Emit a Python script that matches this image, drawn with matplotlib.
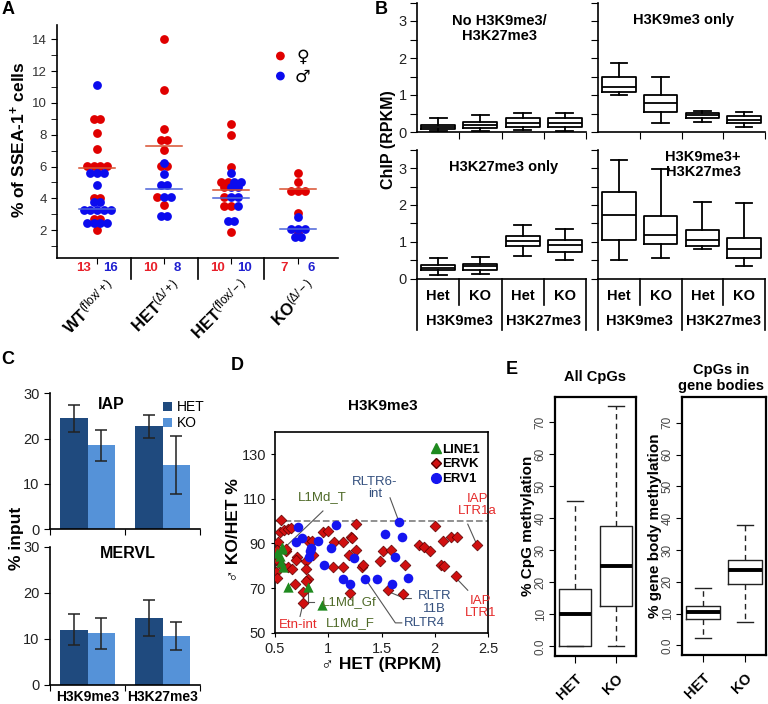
import numpy as np
import matplotlib
matplotlib.use('Agg')
import matplotlib.pyplot as plt
import matplotlib.transforms as mtransforms
from matplotlib.lines import Line2D
from matplotlib.patches import Patch

plt.rcParams['font.family'] = ['Liberation Sans', 'DejaVu Sans']
plt.rcParams['mathtext.fontset'] = 'custom'
plt.rcParams['mathtext.rm'] = 'Liberation Sans'
plt.rcParams['mathtext.it'] = 'Liberation Sans:italic'
plt.rcParams['mathtext.bf'] = 'Liberation Sans:bold'
plt.rcParams['axes.linewidth'] = 1.2
plt.rcParams['xtick.direction'] = 'out'
plt.rcParams['ytick.direction'] = 'out'

# ---------------- data ----------------
# A: % of SSEA-1+ cells, females (red) and males (blue)
a_groups = [r'$\mathbf{WT}^{(\mathrm{flox/+})}$', r'$\mathbf{HET}^{(\Delta/+)}$',
            r'$\mathbf{HET}^{(\mathrm{flox/-})}$', r'$\mathbf{KO}^{(\Delta/-)}$']
a_female = [
    [9.0, 9.0, 8.1, 7.1, 6.05, 6.05, 6.05, 6.05, 4.05, 4.05, 2.7, 2.7, 2.0],
    [14.0, 10.8, 8.35, 7.7, 7.7, 7.05, 6.05, 6.05, 4.1, 3.6],
    [8.7, 8.0, 6.0, 5.0, 5.0, 4.7, 4.1, 3.5, 3.5, 1.9],
    [5.6, 5.0, 4.45, 4.45, 4.45, 3.05, 1.85],
]
a_male = [
    [11.15, 5.6, 5.6, 5.6, 4.85, 3.75, 3.75, 3.25, 3.25, 3.25, 3.25, 3.25,
     2.45, 2.45, 2.45, 2.45],
    [6.2, 5.55, 4.85, 4.85, 4.1, 4.1, 2.9, 2.9],
    [5.6, 5.0, 5.0, 4.7, 4.7, 4.1, 4.1, 3.5, 2.6, 2.6],
    [2.8, 2.1, 2.1, 2.1, 1.55, 1.55],
]
a_female_line = [5.9, 7.3, 4.5, 4.6]
a_male_line = [3.3, 4.6, 4.05, 2.1]

# B: ChIP (RPKM) boxes (whislo, q1, med, q3, whishi): Het K9, KO K9, Het K27, KO K27
b_titles = ['No H3K9me3/\nH3K27me3', 'H3K9me3 only', 'H3K27me3 only', 'H3K9me3+\nH3K27me3']
b_none = [(0.02, 0.08, 0.13, 0.19, 0.37), (0.03, 0.10, 0.19, 0.28, 0.46),
          (0.05, 0.14, 0.25, 0.37, 0.52), (0.04, 0.14, 0.25, 0.37, 0.52)]
b_k9 = [(0.99, 1.09, 1.22, 1.48, 1.86), (0.24, 0.54, 0.78, 1.01, 1.50),
        (0.28, 0.39, 0.46, 0.52, 0.57), (0.14, 0.24, 0.33, 0.44, 0.55)]
b_k27 = [(0.12, 0.23, 0.30, 0.38, 0.56), (0.14, 0.25, 0.35, 0.41, 0.59),
         (0.61, 0.90, 1.02, 1.15, 1.46), (0.52, 0.73, 0.91, 1.06, 1.35)]
b_both = [(0.50, 1.05, 1.74, 2.34, 3.21), (0.57, 0.95, 1.20, 1.69, 2.97),
          (0.81, 0.90, 1.06, 1.32, 2.09), (0.34, 0.57, 0.81, 1.12, 2.05)]
b_cond = ['Het', 'KO', 'Het', 'KO']
b_marks = ['H3K9me3', 'H3K27me3']

# C: % input
c_groups = ['H3K9me3', 'H3K27me3']
c_iap_het = [24.5, 22.7]
c_iap_het_err = [3.0, 2.5]
c_iap_ko = [18.5, 14.2]
c_iap_ko_err = [3.5, 6.4]
c_mervl_het = [12.0, 14.6]
c_mervl_het_err = [3.3, 3.9]
c_mervl_ko = [11.2, 10.6]
c_mervl_ko_err = [3.3, 3.1]

# D: H3K9me3 scatter
d_line1_x = [0.52, 0.547, 0.556, 0.563, 0.57, 0.578, 0.626, 0.814, 0.94]
d_line1_y = [85.5, 84.5, 81.5, 87.5, 88.5, 79.3, 70.4, 70.4, 62.3]
d_ervk_x = [0.556, 0.547, 0.588, 0.626, 0.525, 0.522, 0.604, 0.525, 0.556, 0.62,
            0.657, 0.507, 0.522, 0.688, 0.704, 0.70, 0.79, 0.79, 0.808, 0.79,
            0.76, 0.76, 0.814, 0.85, 0.86, 0.95, 0.996, 1.056, 1.04, 1.134,
            1.143, 1.216, 1.22, 1.197, 1.26, 1.263, 1.316, 1.33, 1.206, 1.999,
            2.08, 2.157, 2.21, 2.40, 1.856, 1.897, 1.96, 2.06, 2.09, 2.195,
            1.514, 1.592, 1.49, 1.724, 1.557, 1.70, 0.65, 0.60]
d_ervk_y = [100.4, 94.9, 96.0, 96.4, 90.6, 87.0, 86.8, 82.3, 80.5, 79.6,
            78.3, 77.1, 74.6, 71.6, 83.8, 82.5, 82.3, 78.3, 74.2, 73.1,
            68.2, 63.3, 91.2, 91.2, 84.8, 94.9, 95.6, 90.5, 79.3, 79.3,
            90.8, 93.0, 92.5, 84.8, 87.0, 98.6, 79.3, 80.4, 67.8, 97.6,
            90.9, 92.8, 93.0, 89.3, 89.4, 88.2, 86.4, 80.5, 80.0, 75.2,
            86.4, 87.0, 82.3, 80.4, 69.0, 67.5, 97.0, 87.5]
d_erv1_x = [0.714, 0.695, 0.75, 0.83, 0.84, 0.82, 0.908, 1.074, 1.027, 0.961,
            1.134, 1.206, 1.244, 1.347, 1.458, 1.536, 1.599, 1.668, 1.693, 1.623,
            1.75]
d_erv1_y = [97.4, 90.5, 92.2, 86.8, 88.0, 83.8, 91.2, 98.2, 88.0, 80.1,
            74.2, 72.0, 83.5, 74.2, 74.2, 94.2, 72.0, 99.6, 92.8, 84.1,
            74.3]

# E: CpG methylation boxes (whislo, q1, med, q3, whishi): HET, KO
e_names = ['HET', 'KO']
e_all = [(0.0, 0.0, 10.0, 18.0, 45.5), (0.0, 12.5, 25.0, 37.5, 75.0)]
e_body = [(2.5, 8.3, 10.5, 12.3, 18.0), (7.5, 19.2, 23.8, 26.8, 38.0)]

# ---------------- figure ----------------
W, H = 768, 704
fig = plt.figure(figsize=(W / 100, H / 100), dpi=100)


def rect(l, t, r, b):
    return [l / W, 1 - b / H, (r - l) / W, (b - t) / H]


def blend(ax):
    return mtransforms.blended_transform_factory(ax.transData, ax.transAxes)


def stats(rows):
    return [dict(whislo=r[0], q1=r[1], med=r[2], q3=r[3], whishi=r[4], fliers=[])
            for r in rows]


for lab, x, y in [('A', 8, 10), ('B', 381, 10), ('C', 8, 360), ('D', 237, 366), ('E', 512, 370)]:
    fig.text(x / W, 1 - y / H, lab, fontsize=13, fontweight='bold', ha='center', va='center')

# ---- A ----
RED, BLUE = '#e00000', '#0b0bee'
axA = fig.add_axes(rect(57, 25, 338, 258))
for i in range(len(a_groups)):
    vals = a_female[i] + a_male[i]
    xs = np.zeros(len(vals))
    for v in set(vals):
        idx = [k for k, u in enumerate(vals) if u == v]
        for j, k in enumerate(idx):
            xs[k] = i + (j - (len(idx) - 1) / 2) * 0.1
    nf = len(a_female[i])
    axA.scatter(xs[:nf], a_female[i], s=40, color=RED, lw=0, zorder=3)
    axA.scatter(xs[nf:], a_male[i], s=40, color=BLUE, lw=0, zorder=4)
    axA.plot([i - 0.27, i + 0.27], [a_female_line[i]] * 2, color='#d8502f', lw=1.1, zorder=5)
    axA.plot([i - 0.27, i + 0.27], [a_male_line[i]] * 2, color='#4b63d8', lw=1.1, zorder=5)
    axA.text(i - 0.2, -0.045, str(nf), color='#e8202a', fontsize=9.5, fontweight='bold',
             ha='center', va='center', transform=blend(axA))
    axA.text(i + 0.2, -0.045, str(len(a_male[i])), color='#2020d0', fontsize=9.5,
             fontweight='bold', ha='center', va='center', transform=blend(axA))
    axA.text(i + 0.12, -0.075, a_groups[i], rotation=45, ha='right', va='top',
             rotation_mode='anchor', fontsize=12, transform=blend(axA))
for x in [0.5, 1.5, 2.5]:
    axA.plot([x, x], [0, -0.09], color='k', lw=1.2, transform=blend(axA), clip_on=False)
axA.set_xlim(-0.6, 3.6)
axA.set_ylim(0.25, 14.9)
axA.set_xticks(range(4))
axA.set_xticklabels([])
axA.set_yticks(range(2, 15, 2))
axA.set_yticks(range(1, 15, 2), minor=True)
axA.tick_params(axis='y', which='both', length=4, labelsize=9.5, labelcolor='#333333')
axA.tick_params(axis='x', length=4)
axA.spines['top'].set_visible(False)
axA.spines['right'].set_visible(False)
fig.text(18 / W, 1 - 140 / H, r'% of SSEA-1$^{\mathbf{+}}$ cells', rotation=90,
         fontsize=12.5, fontweight='bold', ha='center', va='center')
axA.scatter([0.795, 0.795], [0.867, 0.781], s=40, color=[RED, BLUE], lw=0,
            transform=axA.transAxes, clip_on=False)
axA.text(0.875, 0.862, '\u2640', fontsize=12.5, family='DejaVu Sans', ha='center',
         va='center', transform=axA.transAxes)
axA.text(0.875, 0.778, '\u2642', fontsize=12.5, family='DejaVu Sans', ha='center',
         va='center', transform=axA.transAxes)

# ---- B ----
b_rects = [rect(417, 2.5, 586, 132), rect(598, 2.5, 765, 132),
           rect(417, 149.5, 586, 279), rect(598, 149.5, 765, 279)]
b_data = [b_none, b_k9, b_k27, b_both]
b_title_pos = [(0.49, 0.80), (0.51, 0.865), (0.51, 0.865), (0.63, 0.885)]
line_kw = dict(color='k', lw=1.3)
for n in range(4):
    ax = fig.add_axes(b_rects[n])
    ax.bxp(stats(b_data[n]), positions=[1, 2, 3, 4], widths=0.8, showfliers=False,
           capwidths=0.4, manage_ticks=False, boxprops=line_kw, whiskerprops=line_kw,
           capprops=line_kw, medianprops=line_kw)
    ax.set_xlim(0.5, 4.5)
    ax.set_ylim(0, 3.5)
    ax.set_yticks(np.arange(0, 3.51, 0.5))
    if n % 2 == 0:
        ax.set_yticklabels(['0', '', '1', '', '2', '', '3', ''])
    else:
        ax.set_yticklabels([])
    ax.tick_params(axis='y', length=5, pad=2.5, labelsize=10.5, labelcolor='#222222')
    ax.spines['top'].set_visible(False)
    ax.spines['right'].set_visible(False)
    tx, ty = b_title_pos[n]
    ax.text(tx, ty, b_titles[n], fontsize=10.5, fontweight='bold', ha='center', va='center',
            linespacing=1.1, transform=ax.transAxes)
    if n < 2:
        ax.set_xticks([1.5, 2.5, 3.5, 4.5])
        ax.set_xticklabels([])
        ax.tick_params(axis='x', length=5)
    else:
        ax.set_xticks([])
        tr = blend(ax)
        for x, low in [(0.5, -0.39), (1.5, -0.2), (2.5, -0.39), (3.5, -0.2), (4.5, -0.39)]:
            ax.plot([x, x], [0, low], color='k', lw=1.2, transform=tr, clip_on=False)
        for k, c in enumerate(b_cond):
            ax.text(k + 1, -0.13, c, fontsize=10.5, fontweight='bold', ha='center',
                    va='center', transform=tr)
        for k, m in enumerate(b_marks):
            ax.text(1.5 + 2 * k, -0.325, m, fontsize=10.5, fontweight='bold', ha='center',
                    va='center', transform=tr)
fig.text(388 / W, 1 - 140 / H, 'ChIP (RPKM)', rotation=90, fontsize=11.5, fontweight='bold',
         ha='center', va='center')

# ---- C ----
HETC, KOC = '#1f4a7e', '#5592d8'
bw = 0.365
xc = np.arange(len(c_groups))
c_sets = [(c_iap_het, c_iap_het_err, c_iap_ko, c_iap_ko_err, 'IAP', (0.41, 0.914)),
          (c_mervl_het, c_mervl_het_err, c_mervl_ko, c_mervl_ko_err, 'MERVL', (0.52, 0.954))]
c_rects = [rect(50, 393.3, 200, 529.3), rect(50, 546.7, 200, 685)]
for n, (het, het_e, ko, ko_e, title, tpos) in enumerate(c_sets):
    ax = fig.add_axes(c_rects[n])
    ekw = dict(ecolor='#222222', elinewidth=1.1, capsize=4, capthick=1.1)
    ax.bar(xc - bw / 2, het, bw, yerr=het_e, color=HETC, error_kw=ekw, label='HET')
    ax.bar(xc + bw / 2, ko, bw, yerr=ko_e, color=KOC, error_kw=ekw, label='KO')
    ax.set_xlim(-0.5, 1.5)
    ax.set_ylim(0, 30)
    ax.set_yticks([0, 10, 20, 30])
    ax.set_xticks([-0.5, 0.5, 1.5])
    ax.set_xticklabels([])
    ax.tick_params(length=4, labelsize=10.5, labelcolor='#222222')
    ax.spines['top'].set_visible(False)
    ax.spines['right'].set_visible(False)
    ax.text(tpos[0], tpos[1], title, fontsize=11.5, fontweight='bold', ha='center',
            va='center', transform=ax.transAxes)
    if n == 0:
        ax.legend(loc='upper left', bbox_to_anchor=(0.71, 1.0), frameon=False,
                  handlelength=0.6, handleheight=0.6, handletextpad=0.4, fontsize=10,
                  borderpad=0, labelspacing=0.15)
    else:
        for k, g in enumerate(c_groups):
            ax.text(k, -0.09, g, fontsize=10, fontweight='bold', ha='center', va='center',
                    transform=blend(ax))
fig.text(16 / W, 1 - 538 / H, '% input', rotation=90, fontsize=12.5, fontweight='bold',
         ha='center', va='center')

# ---- D ----
axD = fig.add_axes(rect(275, 431.7, 488, 632.7))
axD.axhline(100, color='#888888', ls='--', lw=1.3, zorder=1)
axD.scatter(d_ervk_x, d_ervk_y, marker='D', s=30, color='#d01010', edgecolor='#5a0000',
            lw=0.5, zorder=3)
axD.scatter(d_erv1_x, d_erv1_y, marker='o', s=48, color='#1515f0', lw=0, zorder=4)
axD.scatter(d_line1_x, d_line1_y, marker='^', s=55, color='#1f8a1f', lw=0, zorder=5)
axD.set_xlim(0.5, 2.5)
axD.set_ylim(50, 140)
axD.set_xticks([0.5, 1, 1.5, 2, 2.5])
axD.set_xticklabels(['0.5', '1', '1.5', '2', '2.5'])
axD.set_yticks([50, 70, 90, 110, 130])
axD.tick_params(length=3, labelsize=10.5, labelcolor='#222222')
axD.text(0.507, 1.13, 'H3K9me3', fontsize=11, fontweight='bold', ha='center', va='center',
         transform=axD.transAxes)
axD.set_xlabel('\u2642 HET (RPKM)', fontsize=12.5, fontweight='bold', labelpad=1)
fig.text(233 / W, 1 - 530 / H, '\u2642 KO/HET %', rotation=90, fontsize=12.5,
         fontweight='bold', ha='center', va='center')
handles = [Line2D([], [], marker='^', ls='', color='#1f8a1f', ms=7),
           Line2D([], [], marker='D', ls='', color='#d01010', mec='#5a0000', ms=5),
           Line2D([], [], marker='o', ls='', color='#1515f0', ms=7)]
leg = axD.legend(handles, ['LINE1', 'ERVK', 'ERV1'], loc='upper left',
                 bbox_to_anchor=(0.70, 0.975), frameon=False, handlelength=0.8,
                 handletextpad=0.1, labelspacing=0.2, borderpad=0, fontsize=9.5)
for t in leg.get_texts():
    t.set_fontweight('bold')
GRN, NAVY, RDT = '#4f6a28', '#34507e', '#e52a2a'
lkw = dict(color='#555555', lw=0.8, zorder=2)
notes = [('L1Md_T', 0.94, 110.8, GRN, [(0.95, 104.5), (0.6, 88.5)]),
         ('RLTR6-\nint', 1.44, 114.9, NAVY, [(1.58, 110.4), (1.66, 100.2)]),
         ('IAP\nLTR1a', 2.40, 107.2, RDT, [(2.31, 98.6), (2.39, 90.0)]),
         ('IAP\nLTR1', 2.43, 61.6, RDT, [(2.20, 74.5), (2.31, 69.0)]),
         ('RLTR\n11B', 2.0, 63.6, NAVY, [(1.56, 68.5), (1.72, 65.3), (1.78, 65.3)]),
         ('RLTR4', 1.90, 54.2, NAVY, [(1.35, 74.0), (1.63, 54.4), (1.69, 54.4)]),
         ('L1Md_Gf', 1.2, 63.8, GRN, [(0.81, 69.5), (0.81, 63.8), (0.87, 63.8)]),
         ('L1Md_F', 1.21, 54.2, GRN, []),
         ('Etn-int', 0.72, 53.4, RDT, [(0.76, 62.3), (0.735, 57.3)])]
for txt, x, y, col, path in notes:
    axD.text(x, y, txt, color=col, fontsize=9.5, ha='center', va='center', linespacing=1.05,
             zorder=6)
    if path:
        axD.plot([p[0] for p in path], [p[1] for p in path], **lkw)

# ---- E ----
e_sets = [(e_all, rect(555, 396.7, 636, 656), 'All CpGs', '% CpG methylation', 528, 0.49),
          (e_body, rect(682, 397.3, 766, 655), 'CpGs in\ngene bodies',
           '% gene body methylation', 655, 0.47)]
for data, r, title, ylab, lx, tx in e_sets:
    ax = fig.add_axes(r)
    ax.bxp(stats(data), positions=[1, 2], widths=0.8, showfliers=False, capwidths=0.4,
           manage_ticks=False, boxprops=dict(color='#222222', lw=1.0),
           whiskerprops=dict(color='#222222', lw=1.0, ls=(0, (4, 3))),
           capprops=dict(color='#222222', lw=1.0), medianprops=dict(color='k', lw=2.8))
    ax.set_xlim(0.5, 2.5)
    ax.set_ylim(-3, 78)
    ax.set_yticks(range(0, 71, 10))
    ax.set_yticklabels(['0.0'] + [str(v) for v in range(10, 71, 10)], rotation=90,
                       va='center')
    ax.set_xticks([1, 2])
    ax.set_xticklabels(e_names, rotation=45, ha='right', rotation_mode='anchor',
                       fontsize=10.5, fontweight='bold')
    ax.tick_params(axis='y', length=4, pad=2, labelsize=8.5, labelcolor='#444444')
    ax.tick_params(axis='x', length=5, pad=6)
    for s in ax.spines.values():
        s.set_linewidth(1.6)
    ax.text(tx, 1.075, title, fontsize=10.5, fontweight='bold', ha='center', va='center',
            linespacing=1.1, transform=ax.transAxes)
    fig.text(lx / W, 1 - 526 / H, ylab, rotation=90, fontsize=11, fontweight='bold',
             ha='center', va='center')

fig.savefig('out.png', dpi=100)
